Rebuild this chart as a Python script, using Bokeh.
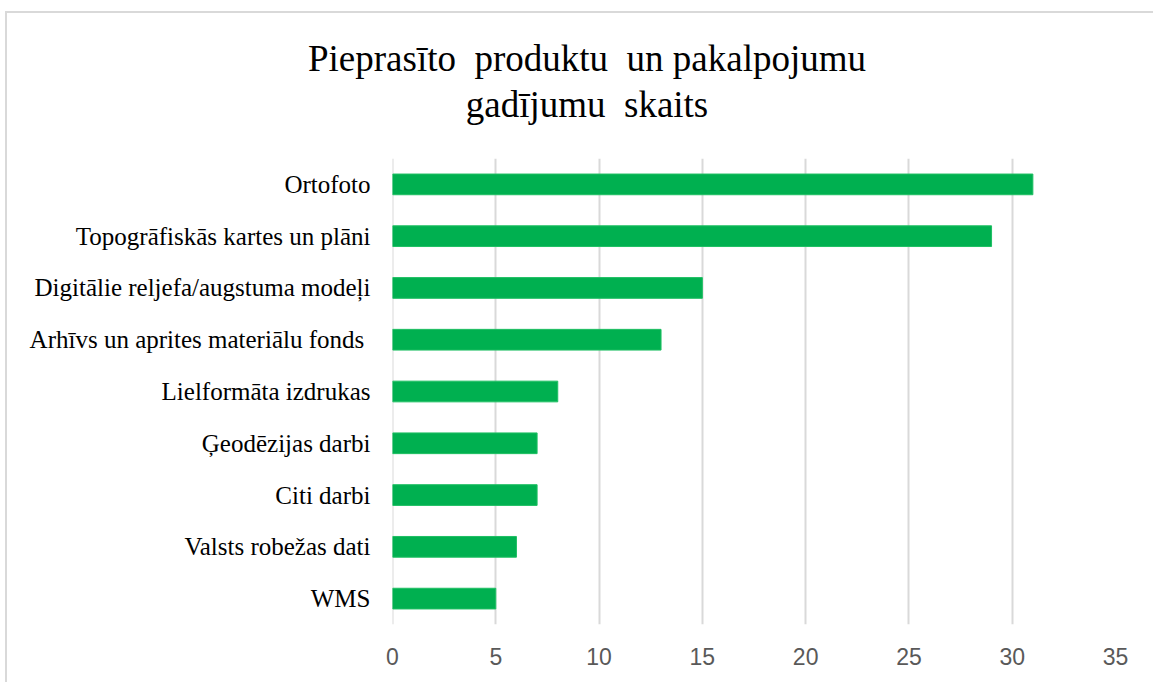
from bokeh.plotting import figure
from bokeh.models import ColumnDataSource, FactorRange, Range1d, FixedTicker, Span, Div
from bokeh.layouts import column
from bokeh.embed import file_html
from bokeh.resources import INLINE

categories = [
    "Ortofoto",
    "Topogrāfiskās kartes un plāni",
    "Digitālie reljefa/augstuma modeļi",
    "Arhīvs un  aprites materiālu fonds",
    "Lielformāta izdrukas",
    "Ģeodēzijas darbi",
    "Citi darbi",
    "Valsts robežas dati",
    "WMS",
]
counts = [31, 29, 15, 13, 8, 7, 7, 6, 5]
x_ticks = [0, 5, 10, 15, 20, 25, 30, 35]
title_lines = ["Pieprasīto  produktu  un pakalpojumu", "gadījumu  skaits"]

source = ColumnDataSource(data=dict(cat=categories, val=counts))

title_div = Div(
    text="<br>".join(title_lines),
    width=1144, height=129,
    styles={
        "font-family": "'Liberation Serif'",
        "font-size": "37px",
        "line-height": "46px",
        "color": "black",
        "text-align": "center",
        "white-space": "pre",
        "padding-top": "18px",
        "padding-left": "6px",
        "box-sizing": "border-box",
    },
)

p = figure(
    width=1144, height=530,
    y_range=FactorRange(factors=list(reversed(categories))),
    x_range=Range1d(0, 35),
    output_backend="svg", toolbar_location=None,
    min_border_left=385, min_border_right=36,
    min_border_top=6, min_border_bottom=58,
)

p.hbar(y="cat", right="val", left=0, height=0.4, source=source,
       fill_color="#00B050", line_color="#1fbf63", line_width=1)

p.outline_line_color = None
p.background_fill_color = "white"
p.border_fill_color = "white"

p.xgrid.ticker = FixedTicker(ticks=x_ticks)
p.xgrid.grid_line_color = "#d9d9d9"
p.xgrid.grid_line_width = 2
p.ygrid.grid_line_color = None
p.add_layout(Span(location=0, dimension="height", line_color="#d9d9d9",
                  line_width=2, level="underlay"))

p.xaxis.ticker = FixedTicker(ticks=x_ticks)
p.xaxis.axis_line_color = None
p.xaxis.major_tick_line_color = None
p.xaxis.minor_tick_line_color = None
p.xaxis.major_label_standoff = 17
p.xaxis.major_label_text_font = "Liberation Sans"
p.xaxis.major_label_text_font_size = "23px"
p.xaxis.major_label_text_color = "#595959"

p.yaxis.axis_line_color = None
p.yaxis.major_tick_line_color = None
p.yaxis.major_tick_out = 0
p.yaxis.major_label_standoff = 22
p.yaxis.major_label_text_font = "Liberation Serif"
p.yaxis.major_label_text_font_size = "25px"
p.yaxis.major_label_text_color = "black"

layout = column(title_div, p, spacing=0)
layout.styles = {
    "border-top": "2px solid #d9d9d9",
    "border-left": "2px solid #d9d9d9",
    "margin-left": "5px",
    "margin-top": "11px",
}

open("out.html", "w").write(file_html(layout, INLINE))
